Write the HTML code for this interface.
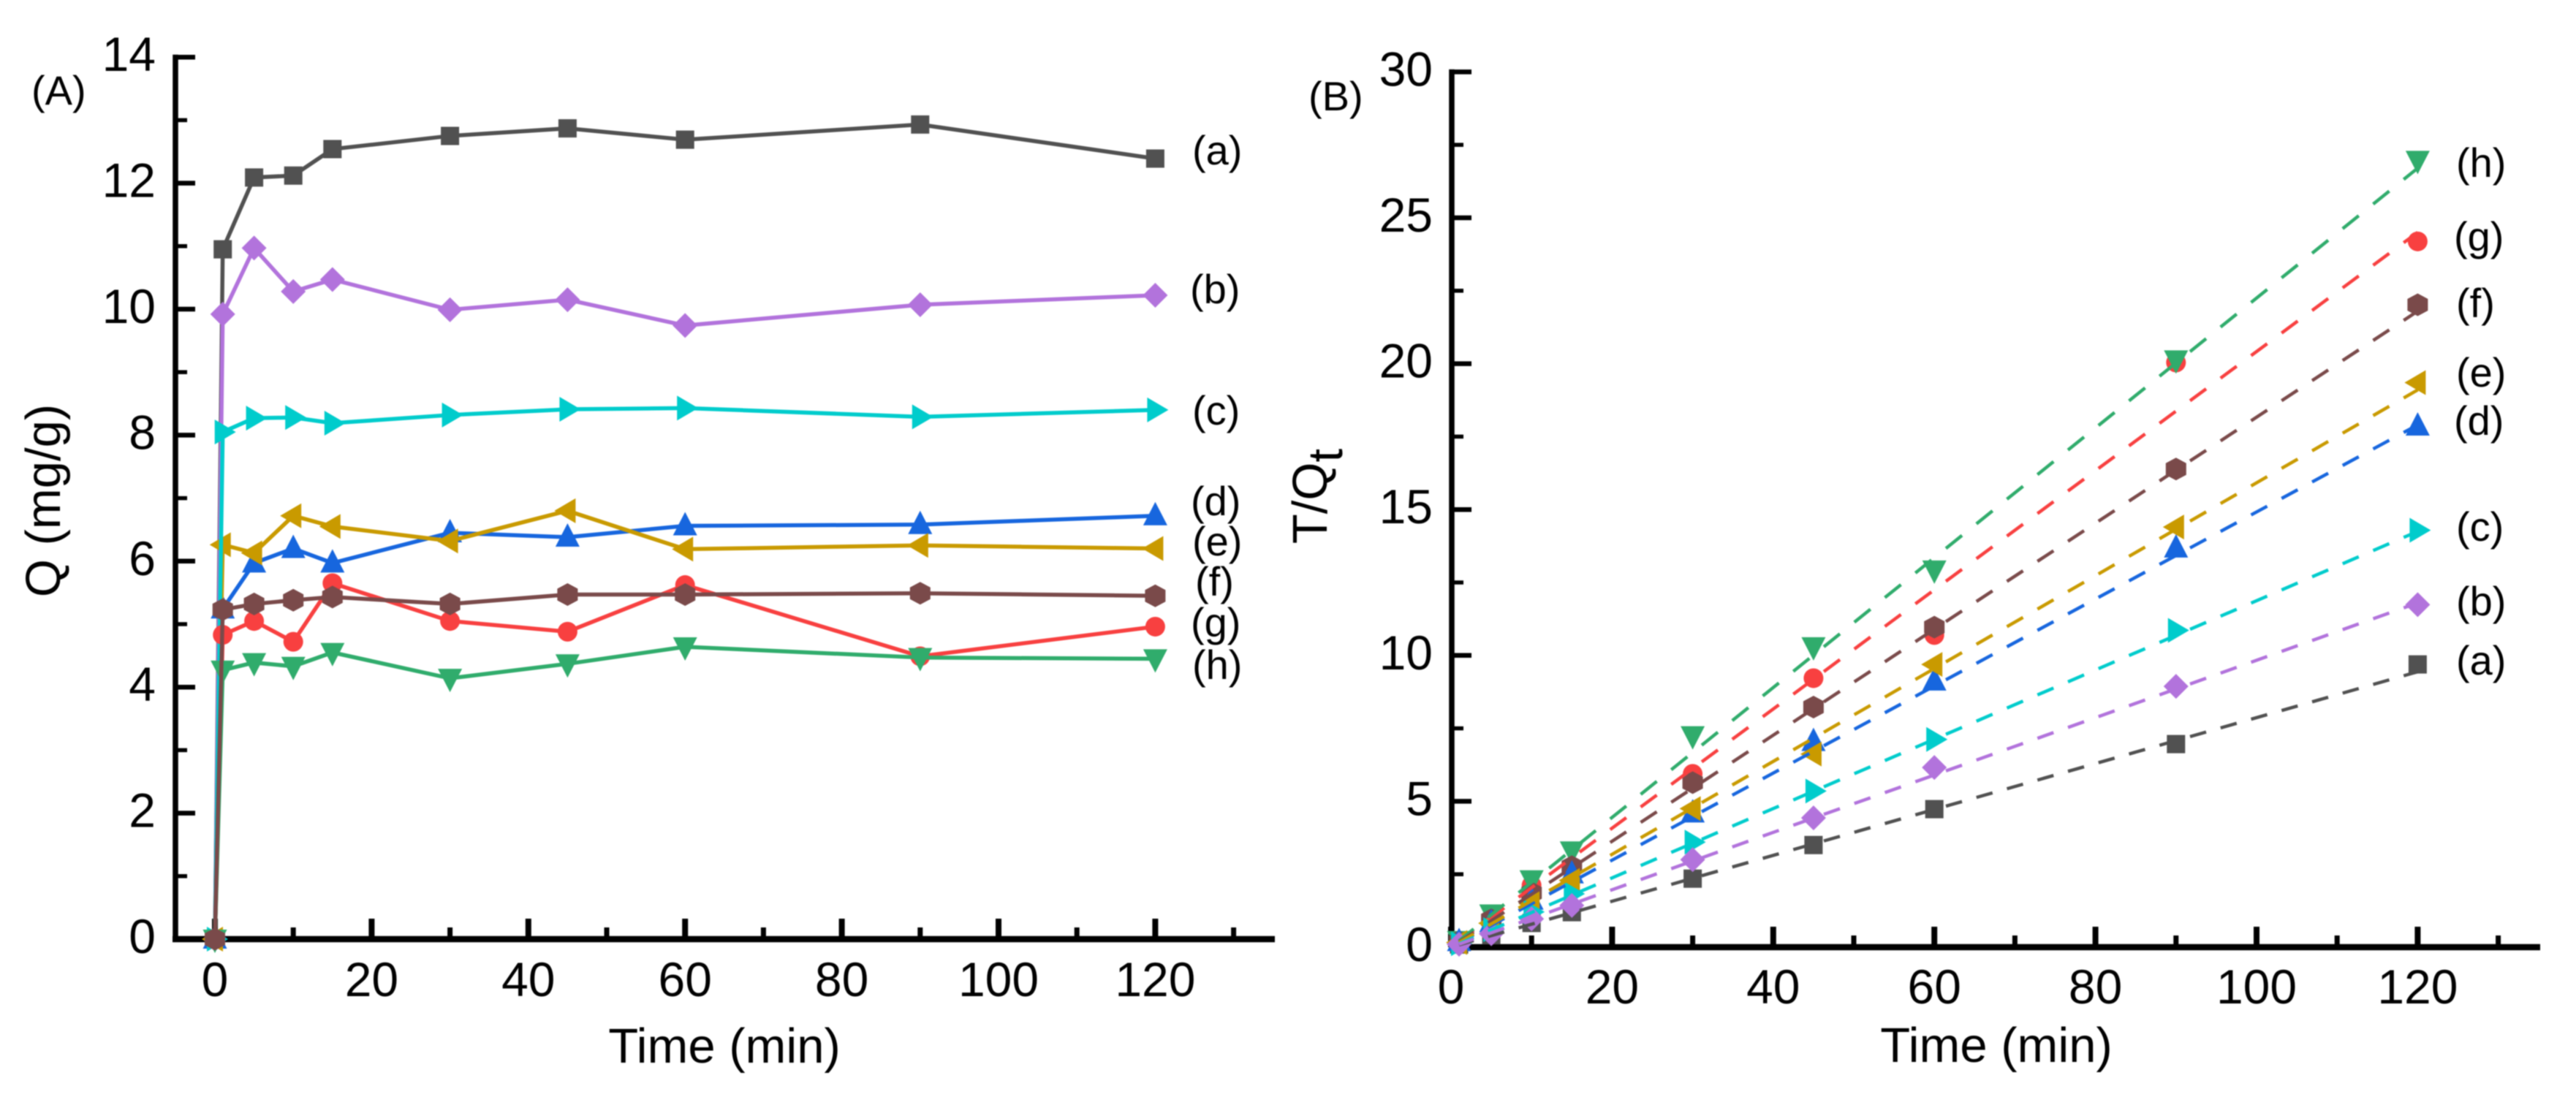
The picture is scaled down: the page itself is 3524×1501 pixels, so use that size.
<!DOCTYPE html>
<html>
<head>
<meta charset="utf-8">
<title>Adsorption kinetics charts</title>
<style>
html,body{margin:0;padding:0;background:#fff;}
svg{display:block;filter:blur(0.8px);}
text{font-family:"Liberation Sans",Arial,sans-serif;fill:#000;}
</style>
</head>
<body>
<svg id="chart" xmlns="http://www.w3.org/2000/svg" width="3524" height="1501" viewBox="0 0 3524 1501">
<rect x="0" y="0" width="3524" height="1501" fill="#fff"/>
</svg>
<script>
// ---- shared data ----
const seriesKeys = ['a','b','c','d','e','f','g','h'];
const seriesColors = ['#515151','#b273dc','#00cccc','#1766de','#c99a00','#7a4a4a','#f84040','#30ac6c'];
const seriesShapes = ['square','diamond','right','up','left','hex','circle','down'];

// ---- panel A data ----
const timesA = [0,1,5,10,15,30,45,60,90,120];
const qa = [0,10.95,12.09,12.12,12.54,12.75,12.87,12.69,12.93,12.39];
const qb = [0,9.92,10.97,10.28,10.47,9.99,10.15,9.74,10.07,10.22];
const qc = [0,8.05,8.27,8.28,8.19,8.32,8.41,8.43,8.29,8.40];
const qd = [0,5.24,5.97,6.20,5.97,6.45,6.38,6.56,6.58,6.72];
const qe = [0,6.26,6.13,6.72,6.55,6.32,6.80,6.19,6.25,6.20];
const qf = [0,5.23,5.32,5.38,5.43,5.32,5.47,5.47,5.49,5.45];
const qg = [0,4.83,5.05,4.72,5.65,5.05,4.88,5.62,4.49,4.96];
const qh = [0,4.27,4.39,4.33,4.55,4.14,4.37,4.64,4.47,4.45];
const xTicksA = [0,20,40,60,80,100,120];
const xMinorA = [10,30,50,70,90,110,130];
const yTicksA = [0,2,4,6,8,10,12,14];
const yMinorA = [1,3,5,7,9,11,13];

// ---- panel B data ----
const timesB = [1,5,10,15,30,45,60,90,120];
const ta = [0.09,0.41,0.83,1.20,2.35,3.50,4.73,6.96,9.69];
const tb = [0.10,0.46,0.97,1.43,3.00,4.43,6.16,8.94,11.74];
const tc = [0.12,0.60,1.21,1.83,3.60,5.35,7.12,10.86,14.29];
const td = [0.19,0.84,1.61,2.51,4.60,7.05,9.12,13.68,17.86];
const te = [0.16,0.82,1.49,2.29,4.75,6.62,9.69,14.40,19.35];
const tf = [0.19,0.94,1.86,2.76,5.64,8.23,10.97,16.39,22.02];
const tg = [0.21,0.99,2.12,2.65,5.94,9.22,10.70,20.04,24.19];
const th = [0.23,1.14,2.31,3.30,7.25,10.30,12.93,20.13,26.97];
const fitTimes = [1,120];
const fita = [0.08,9.44];
const fitb = [0.10,11.80];
const fitc = [0.12,14.25];
const fitd = [0.15,17.90];
const fite = [0.16,19.10];
const fitf = [0.18,21.80];
const fitg = [0.20,24.50];
const fith = [0.22,26.70];
const xTicksB = [0,20,40,60,80,100,120];
const xMinorB = [10,30,50,70,90,110,130];
const yTicksB = [0,5,10,15,20,25,30];
const yMinorB = [2.5,7.5,12.5,17.5,22.5,27.5];

// ---- axis functions ----
function xA(t){ return 294 + t * 10.72; }
function yA(v){ return 1285 - v * 86.2; }
function xB(t){ return 1985 + t * 11.02; }
function yB(v){ return 1296 - v * 39.92; }

const svg = document.getElementById('chart');
const NS = 'http://www.w3.org/2000/svg';

function make(tag, parent, attrs){
  const el = document.createElementNS(NS, tag);
  for (const k in attrs) el.setAttribute(k, attrs[k]);
  parent.appendChild(el);
  return el;
}

function drawMarker(parent, shape, cx, cy, color){
  let el;
  if (shape === 'circle') {
    el = make('circle', parent, {cx:cx, cy:cy, r:13.5, fill:color});
  } else {
    const shapes = {
      square:[[-12.5,-12.5],[12.5,-12.5],[12.5,12.5],[-12.5,12.5]],
      diamond:[[0,-17],[17,0],[0,17],[-17,0]],
      up:[[0,-19],[16.5,13],[-16.5,13]],
      down:[[-16.5,-13],[16.5,-13],[0,19]],
      left:[[-18,0],[11,-17],[11,17]],
      right:[[18,0],[-11,-17],[-11,17]],
      hex:[[0,-15.5],[14,-8],[14,8],[0,15.5],[-14,8],[-14,-8]]
    };
    const pts = shapes[shape].map(p => (cx + p[0]) + ',' + (cy + p[1])).join(' ');
    el = make('polygon', parent, {points:pts, fill:color});
  }
  
  
  return el;
}

function drawText(parent, str, x, y, size, anchor, name){
  const el = make('text', parent, {x:x, y:y, 'font-size':size, 'text-anchor':anchor});
  el.textContent = str;
  
  
  return el;
}

function drawLine(parent, x1, y1, x2, y2, w, name){
  const el = make('line', parent, {x1:x1, y1:y1, x2:x2, y2:y2, stroke:'#000', 'stroke-width':w});
  
  
  return el;
}

function drawAxes(id, xf, yf, left, right, bottomY, topV, xT, xM, yT, yM, yLabelX, xLabelY){
  const g = make('g', svg, {});
  
  
  drawLine(g, left, yf(topV) - 3.5, left, bottomY + 4, 7.5, id + '-y-axis-line');
  drawLine(g, left - 4, bottomY, right, bottomY, 8.5, id + '-x-axis-line');
  yT.forEach(v => {
    drawLine(g, left, yf(v), left + 27, yf(v), 6.5, id + '-y-tick');
    drawText(g, String(v), yLabelX, yf(v) + 19, 66, 'end', id + '-y-tick-label');
  });
  yM.forEach(v => {
    drawLine(g, left, yf(v), left + 16, yf(v), 5.5, id + '-y-minor-tick');
  });
  xT.forEach(v => {
    drawLine(g, xf(v), bottomY, xf(v), bottomY - 28, 8, id + '-x-tick');
    drawText(g, String(v), xf(v), xLabelY, 66, 'middle', id + '-x-tick-label');
  });
  xM.forEach(v => {
    drawLine(g, xf(v), bottomY, xf(v), bottomY - 16, 7, id + '-x-minor-tick');
  });
}

// ---- panel A ----
drawAxes('panel-a', xA, yA, 240, 1744, 1285, 14, xTicksA, xMinorA, yTicksA, yMinorA, 213, 1363);
drawText(svg, '(A)', 43, 143, 56, 'start', 'panel-a-label');
drawText(svg, 'Time (min)', 991, 1454, 67, 'middle', 'panel-a-x-axis-title');
const yTitleA = drawText(svg, 'Q (mg/g)', 0, 0, 67, 'middle', 'panel-a-y-axis-title');
yTitleA.setAttribute('transform', 'translate(82,685) rotate(-90)');

const seriesA = {a:qa, b:qb, c:qc, d:qd, e:qe, f:qf, g:qg, h:qh};
const orderA = ['a','b','d','e','c','g','h','f'];
orderA.forEach(k => {
  const i = seriesKeys.indexOf(k);
  const g = make('g', svg, {});
  
  
  const pts = timesA.map((t, j) => xA(t) + ',' + yA(seriesA[k][j])).join(' ');
  const line = make('polyline', g, {points:pts, fill:'none', stroke:seriesColors[i], 'stroke-width':5.5, 'stroke-linejoin':'miter'});
  
  
  timesA.forEach((t, j) => drawMarker(g, seriesShapes[i], xA(t), yA(seriesA[k][j]), seriesColors[i]));
});

const labelsA = ['(a)','(b)','(c)','(d)','(e)','(f)','(g)','(h)'];
const labelCentersA = [210,400,566,690,745,800,856,914];
const labelLeftA = [1631,1628,1631,1629,1631,1635,1629,1631];
labelsA.forEach((s, i) => {
  drawText(svg, s, labelLeftA[i], labelCentersA[i] + 15, 56, 'start', 'panel-a-series-label');
});

// ---- panel B ----
drawAxes('panel-b', xB, yB, 1986, 3475, 1296, 30, xTicksB, xMinorB, yTicksB, yMinorB, 1960, 1373);
drawText(svg, '(B)', 1790, 151, 56, 'start', 'panel-b-label');
drawText(svg, 'Time (min)', 2731, 1453, 67, 'middle', 'panel-b-x-axis-title');
const yTitleB = make('text', svg, {'font-size':67, 'text-anchor':'middle', transform:'translate(1815,679) rotate(-90)'});


yTitleB.appendChild(document.createTextNode('T/Q'));
const subT = make('tspan', yTitleB, {'font-size':67, dy:21});
subT.textContent = 't';

const seriesB = {a:ta, b:tb, c:tc, d:td, e:te, f:tf, g:tg, h:th};
const fitsB = {a:fita, b:fitb, c:fitc, d:fitd, e:fite, f:fitf, g:fitg, h:fith};
const orderB = ['a','g','h','f','d','e','c','b'];
// markers first: the dashed fit lines sit on top of them in the reference
orderB.forEach(k => {
  const i = seriesKeys.indexOf(k);
  const g = make('g', svg, {});
  
  
  timesB.forEach((t, j) => drawMarker(g, seriesShapes[i], xB(t), yB(seriesB[k][j]), seriesColors[i]));
});
orderB.forEach(k => {
  const i = seriesKeys.indexOf(k);
  const x1 = xB(fitTimes[0]), x2 = xB(fitTimes[1]);
  const fit = make('line', svg, {
    x1:x1, y1:yB(fitsB[k][0]), x2:x2, y2:yB(fitsB[k][1]),
    stroke:seriesColors[i], 'stroke-width':4.5,
    pathLength:(x2 - x1), 'stroke-dasharray':'22 19.75', 'stroke-dashoffset':2
  });
  
  
});

const labelsB = ['(a)','(b)','(c)','(d)','(e)','(f)','(g)','(h)'];
const labelCentersB = [908,827,725,580,514,419,328,227];
const labelLeftB = [3360,3360,3360,3357,3360,3360,3357,3360];
labelsB.forEach((s, i) => {
  drawText(svg, s, labelLeftB[i], labelCentersB[i] + 15, 56, 'start', 'panel-b-series-label');
});
</script>
</body>
</html>
